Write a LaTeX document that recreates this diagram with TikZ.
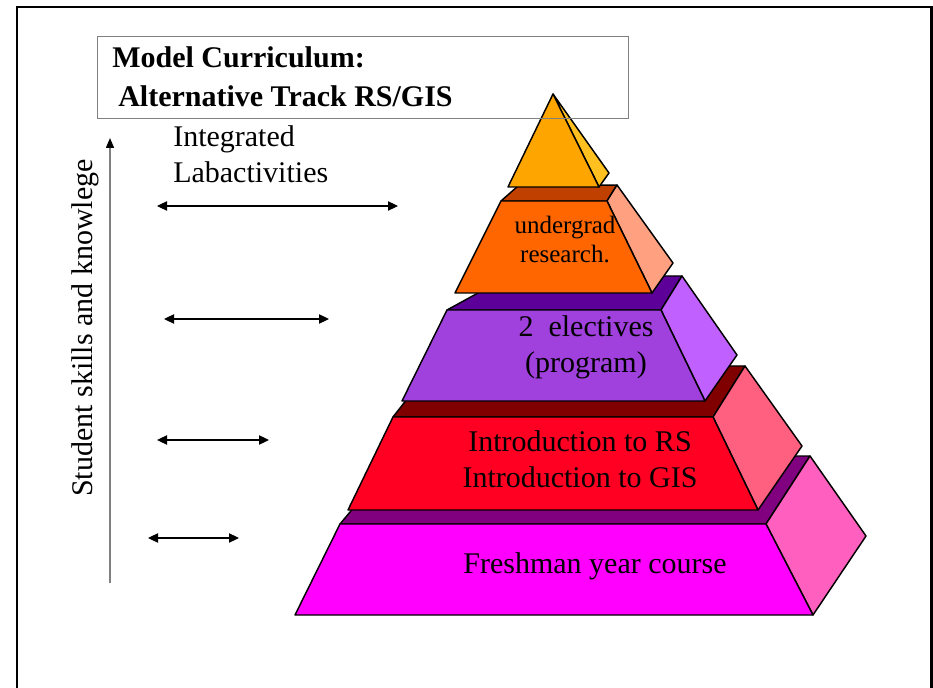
\documentclass[tikz,border=0pt]{standalone}
\usepackage{fontspec}
\setmainfont{Liberation Serif}
\usetikzlibrary{arrows.meta}
\definecolor{boxgray}{HTML}{808080}
\definecolor{frFront}{HTML}{FF00FF}
\definecolor{frTop}{HTML}{800080}
\definecolor{frSide}{HTML}{FF60C0}
\definecolor{rdFront}{HTML}{FF0022}
\definecolor{rdTop}{HTML}{800000}
\definecolor{rdSide}{HTML}{FF6080}
\definecolor{puFront}{HTML}{A040DD}
\definecolor{puTop}{HTML}{5C0099}
\definecolor{puSide}{HTML}{C060FF}
\definecolor{orFront}{HTML}{FF6600}
\definecolor{orTop}{HTML}{C04000}
\definecolor{orSide}{HTML}{FFA080}
\definecolor{apFront}{HTML}{FFA500}
\definecolor{apSide}{HTML}{FFC020}
\begin{document}
\begin{tikzpicture}[x=0.75pt,y=-0.75pt,
  face/.style={draw=black,line width=1.1pt,line join=round},
  lbl/.style={font=\fontsize{22.5}{27}\selectfont,inner sep=0pt},
  small/.style={font=\fontsize{18.75}{22}\selectfont,inner sep=0pt},
  ttl/.style={font=\fontsize{22.5}{27}\selectfont\bfseries,inner sep=0pt},
  dbl/.style={{Triangle[length=7.5pt,width=7pt]}-{Triangle[length=7.5pt,width=7pt]},line width=0.8pt},
  axis/.style={-{Triangle[length=7.5pt,width=6pt,color=black]},draw=boxgray,line width=1.1pt}]
\useasboundingbox (0,0) rectangle (933,688);
% outer frame
\draw[line width=2pt] (17,688) -- (17,7) -- (931.5,7) -- (931.5,688);

% Freshman layer
\filldraw[face,fill=frTop] (340,524) -- (397,456) -- (810,456) -- (766,524) -- cycle;
\filldraw[face,fill=frSide] (766,524) -- (810,456) -- (866,536) -- (813,615) -- cycle;
\filldraw[face,fill=frFront] (295,615) -- (340,524) -- (766,524) -- (813,615) -- cycle;
% Red layer
\filldraw[face,fill=rdTop] (393,417) -- (433,366) -- (745,366) -- (713,417) -- cycle;
\filldraw[face,fill=rdSide] (713,417) -- (745,366) -- (802,446) -- (758,510) -- cycle;
\filldraw[face,fill=rdFront] (348,510) -- (393,417) -- (713,417) -- (758,510) -- cycle;
% Purple layer
\filldraw[face,fill=puTop] (447,310) -- (509,276) -- (682,276) -- (661,310) -- cycle;
\filldraw[face,fill=puSide] (661,310) -- (682,276) -- (737,355) -- (705,401) -- cycle;
\filldraw[face,fill=puFront] (402,401) -- (447,310) -- (661,310) -- (705,401) -- cycle;
% Orange layer
\filldraw[face,fill=orTop] (501,201) -- (518,186) -- (617,185) -- (607,201) -- cycle;
\filldraw[face,fill=orSide] (607,201) -- (617,185) -- (673,263) -- (652,293) -- cycle;
\filldraw[face,fill=orFront] (455,293) -- (501,201) -- (607,201) -- (652,293) -- cycle;
% Apex
\filldraw[face,fill=apSide] (553,94) -- (609,173) -- (599,187) -- cycle;
\filldraw[face,fill=apFront] (553,94) -- (508,187) -- (599,187) -- cycle;

% title box
\node[draw=boxgray,line width=0.8pt,minimum width=398.25pt,minimum height=61.5pt,anchor=north west,inner sep=0pt] (titlebox) at (97,36) {};
\node[ttl,anchor=base west] (title1) at (112,68) {Model Curriculum:};
\node[ttl,anchor=base west] (title2) at (118,107) {Alternative Track RS/GIS};

% layer labels
\node[small,anchor=base] (ug1) at (565,234) {undergrad};
\node[small,anchor=base] (ug2) at (565,263) {research.};
\node[lbl,anchor=base] (el1) at (586,337) {2\ \ electives};
\node[lbl,anchor=base] (el2) at (586,373) {(program)};
\node[lbl,anchor=base] (in1) at (580,451) {Introduction to RS};
\node[lbl,anchor=base] (in2) at (580,487) {Introduction to GIS};
\node[lbl,anchor=base] (fr) at (595,573) {Freshman year course};

% left side
\node[lbl,anchor=base west] (lab1) at (173,147) {Integrated};
\node[lbl,anchor=base west] (lab2) at (173,183) {Labactivities};
\node[lbl,anchor=base west,rotate=90] (axlbl) at (92,497) {Student skills and knowlege};

\coordinate (axB) at (110,583);
\coordinate (axT) at (110,138);
\draw[axis] (axB) -- (axT);

\coordinate (a1l) at (157,206); \coordinate (a1r) at (398,206);
\coordinate (a2l) at (164,319); \coordinate (a2r) at (329,319);
\coordinate (a3l) at (157,440); \coordinate (a3r) at (269,440);
\coordinate (a4l) at (148,538); \coordinate (a4r) at (239,538);
\draw[dbl] (a1l) -- (a1r);
\draw[dbl] (a2l) -- (a2r);
\draw[dbl] (a3l) -- (a3r);
\draw[dbl] (a4l) -- (a4r);
\end{tikzpicture}
\end{document}
